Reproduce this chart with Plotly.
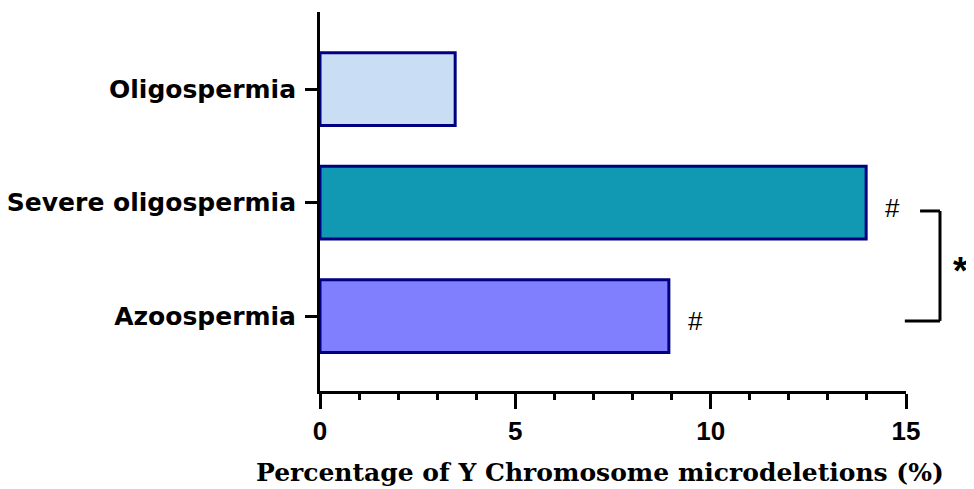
import plotly.graph_objects as go

categories = ["Azoospermia", "Severe oligospermia", "Oligospermia"]
values = [8.93, 13.98, 3.46]
colors = ["#8080FF", "#1199B4", "#C9DDF5"]
marks = ["#", "#", ""]
x_ticks = [0, 5, 10, 15]

fig = go.Figure()
fig.add_trace(go.Bar(
    x=values, y=categories, orientation="h",
    marker=dict(color=colors, line=dict(color="#000080", width=3)),
    width=0.64, showlegend=False, hoverinfo="x+y",
))

for c, v, m in zip(categories, values, marks):
    if m:
        fig.add_annotation(x=v + 0.68, y=c, yshift=-5, text=m, showarrow=False,
                           font=dict(family="Liberation Sans", size=26, color="black"))

# significance bracket (paper coords relative to plot area)
bx_top, bx_v, bx_bot = 1.024, 1.058, 0.998
y_top, y_bot = 0.475, 0.185
for x0, y0, x1, y1 in [(bx_top, y_top, bx_v, y_top), (bx_v, y_top, bx_v, y_bot), (bx_bot, y_bot, bx_v, y_bot)]:
    fig.add_shape(type="line", xref="paper", yref="paper", x0=x0, y0=y0, x1=x1, y1=y1,
                  line=dict(color="black", width=3))
fig.add_annotation(xref="paper", yref="paper", x=1.11, y=0.255, text="<b>*</b>", showarrow=False,
                   font=dict(family="Liberation Sans", size=38, color="black"))

# x-axis title
fig.add_annotation(xref="paper", yref="paper", x=-0.112, y=-0.216, xanchor="left", yanchor="middle",
                   text="Percentage of Y Chromosome microdeletions (%)", showarrow=False,
                   font=dict(family="DejaVu Serif", size=25, color="black", weight="bold"))

fig.update_layout(
    width=974, height=489,
    margin=dict(l=312, r=76, t=4, b=106, autoexpand=False),
    plot_bgcolor="white", paper_bgcolor="white",
)
fig.update_xaxes(
    range=[0, 15], tickvals=x_ticks, ticktext=[str(t) for t in x_ticks],
    showline=True, linecolor="black", linewidth=3,
    ticks="outside", ticklen=15, tickwidth=3, tickcolor="black",
    minor=dict(dtick=1, ticks="outside", ticklen=6, tickwidth=3, tickcolor="black", showgrid=False),
    showgrid=False, zeroline=False, automargin=False,
    tickfont=dict(family="Liberation Sans", size=26, color="black", weight="bold"),
)
fig.update_yaxes(
    categoryorder="array", categoryarray=categories,
    range=[-0.66, 2.68],
    showline=True, linecolor="black", linewidth=3,
    ticks="outside", ticklen=12, tickwidth=3, tickcolor="black",
    ticklabelstandoff=4,
    showgrid=False, zeroline=False, automargin=False,
    tickfont=dict(family="DejaVu Sans", size=25, color="black", weight="bold"),
)

fig.write_html("out.html")
